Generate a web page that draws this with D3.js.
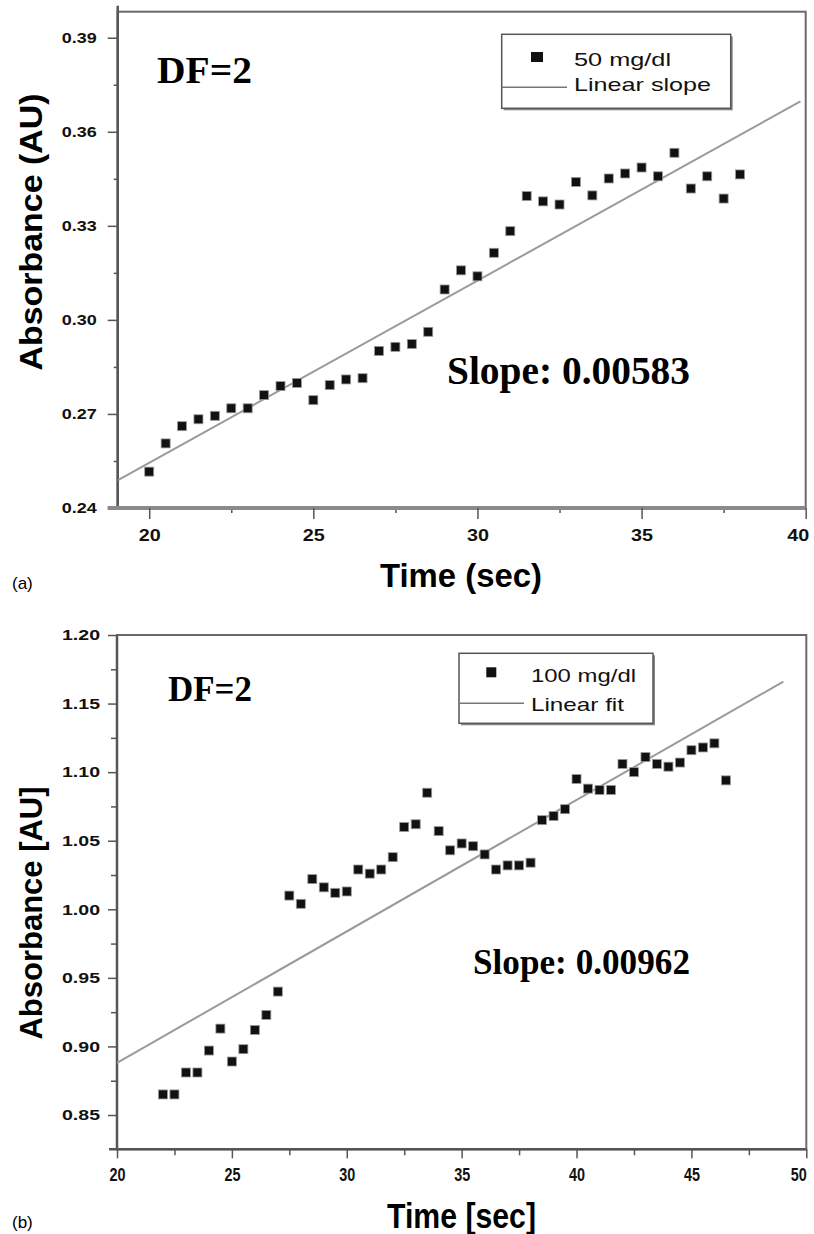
<!DOCTYPE html>
<html><head><meta charset="utf-8">
<script src="https://cdn.jsdelivr.net/npm/d3@7/dist/d3.min.js"></script>
<style>body{margin:0;background:#fff}svg{display:block}</style>
</head><body>
<svg id="c" width="814" height="1234"></svg>
<script>
// ---------- Panel (a) data ----------
const timeA = [20,20.5,21,21.5,22,22.5,23,23.5,24,24.5,25,25.5,26,26.5,27,27.5,28,28.5,29,29.5,30,30.5,31,31.5,32,32.5,33,33.5,34,34.5,35,35.5,36,36.5,37,37.5,38];
const absA  = [0.2516,0.2606,0.2661,0.2683,0.2694,0.2718,0.2718,0.2760,0.2789,0.2799,0.2744,0.2792,0.2810,0.2814,0.2901,0.2914,0.2923,0.2962,0.3097,0.3158,0.3139,0.3214,0.3283,0.3395,0.3378,0.3368,0.3440,0.3397,0.3451,0.3467,0.3486,0.3458,0.3533,0.3419,0.3458,0.3387,0.3464];
const fitTimeA = [19.05, 39.84];
const fitAbsA  = [0.2489, 0.3697];
const yTicksA = [0.24,0.27,0.30,0.33,0.36,0.39];
const yMinorA = [0.255,0.285,0.315,0.345,0.375];
const xTicksA = [20,25,30,35,40];
const xMinorA = [22.5,27.5,32.5,37.5];

// ---------- Panel (b) data ----------
const timeB = [22,22.5,23,23.5,24,24.5,25,25.5,26,26.5,27,27.5,28,28.5,29,29.5,30,30.5,31,31.5,32,32.5,33,33.5,34,34.5,35,35.5,36,36.5,37,37.5,38,38.5,39,39.5,40,40.5,41,41.5,42,42.5,43,43.5,44,44.5,45,45.5,46,46.5];
const absB  = [0.865,0.865,0.881,0.881,0.897,0.913,0.889,0.898,0.912,0.923,0.940,1.010,1.004,1.022,1.016,1.012,1.013,1.029,1.026,1.029,1.038,1.060,1.062,1.085,1.057,1.043,1.048,1.046,1.040,1.029,1.032,1.032,1.034,1.065,1.068,1.073,1.095,1.088,1.087,1.087,1.106,1.100,1.111,1.106,1.104,1.107,1.116,1.118,1.121,1.094];
const fitTimeB = [20.0, 49.0];
const fitAbsB  = [0.888, 1.166];
const yTicksB = [0.85,0.90,0.95,1.00,1.05,1.10,1.15,1.20];
const yMinorB = [0.875,0.925,0.975,1.025,1.075,1.125,1.175];
const xTicksB = [20,25,30,35,40,45,50];
const xMinorB = [22.5,27.5,32.5,37.5,42.5,47.5];

const svg = d3.select('#c');
const SANS = "'Liberation Sans', Arial, sans-serif";
const SERIF = "'Liberation Serif', 'Times New Roman', serif";

function panel(o){
  const x = d3.scaleLinear().domain(o.xDomain).range(o.xRange);
  const y = d3.scaleLinear().domain(o.yDomain).range(o.yRange);
  const g = svg.append('g');
  const L = o.xRange[0], R = o.xRange[1], T = o.yRange[1], B = o.yRange[0];

  // frame (top & right)
  g.append('rect').attr('x', L).attr('y', T).attr('width', R-L).attr('height', B-T)
    .attr('fill','none').attr('stroke','#6a6a6a').attr('stroke-width',2);

  // minor ticks
  g.append('g').attr('transform',`translate(${L},0)`)
    .call(d3.axisLeft(y).tickValues(o.yMinor).tickSize(o.yMinorLen).tickFormat(''))
    .call(s=>s.select('.domain').remove())
    .call(s=>s.selectAll('line').attr('stroke','#555').attr('stroke-width',1.5));
  g.append('g').attr('transform',`translate(0,${B})`)
    .call(d3.axisBottom(x).tickValues(o.xMinor).tickSize(o.xMinorLen).tickFormat(''))
    .call(s=>s.select('.domain').remove())
    .call(s=>s.selectAll('line').attr('stroke','#555').attr('stroke-width',1.5));

  // major y axis
  const ya = g.append('g').attr('transform',`translate(${L},0)`)
    .call(d3.axisLeft(y).tickValues(o.yTicks).tickSize(o.yMajorLen).tickPadding(o.yPad).tickFormat(d3.format('.2f')));
  ya.select('.domain').attr('stroke','#555').attr('stroke-width',2.5)
    .attr('d', `M0,${B}V${T - o.leftOver}`);
  ya.selectAll('line').attr('stroke','#555').attr('stroke-width',1.5);
  ya.selectAll('text').attr('font-family',SANS).attr('font-weight','bold')
    .attr('font-size',o.yFont).attr('fill','#111')
    .attr('textLength',o.yLabelLen).attr('lengthAdjust','spacingAndGlyphs');

  // major x axis
  const xa = g.append('g').attr('transform',`translate(0,${B})`)
    .call(d3.axisBottom(x).tickValues(o.xTicks).tickSize(o.xMajorLen).tickPadding(o.xPad).tickFormat(d3.format('d')));
  xa.select('.domain').attr('stroke',o.bottomColor).attr('stroke-width',o.bottomWidth)
    .attr('d', `M${L - o.bottomOver},0H${R}`);
  xa.selectAll('line').attr('stroke','#555').attr('stroke-width',1.5);
  xa.selectAll('text').attr('font-family',SANS).attr('font-weight','bold')
    .attr('font-size',o.xFont).attr('fill','#111')
    .attr('textLength',o.xLabelLen).attr('lengthAdjust','spacingAndGlyphs');
  // keep the last label inside the page
  xa.selectAll('text').filter((d,i,n)=>i===n.length-1)
    .attr('text-anchor','end').attr('x', o.lastLabelDx);

  // fit line
  const fit = o.fitT.map((t,i)=>({t, v:o.fitV[i]}));
  g.append('path').datum(fit)
    .attr('d', d3.line().x(d=>x(d.t)).y(d=>y(d.v)))
    .attr('fill','none').attr('stroke','#9a9a9a').attr('stroke-width',2);

  // data points
  const pts = o.t.map((t,i)=>({t, v:o.v[i]}));
  g.append('g').selectAll('rect').data(pts).join('rect')
    .attr('x', d=>x(d.t)-o.ms/2).attr('y', d=>y(d.v)-o.ms/2)
    .attr('width', o.ms).attr('height', o.ms)
    .attr('fill','#111').attr('stroke','#9a9a9a').attr('stroke-width',0.8);

  // legend
  const lg = o.legend;
  g.append('rect').attr('x',lg.x+2).attr('y',lg.y+2).attr('width',lg.w).attr('height',lg.h)
    .attr('fill','#888');
  g.append('rect').attr('x',lg.x).attr('y',lg.y).attr('width',lg.w).attr('height',lg.h)
    .attr('fill','#fff').attr('stroke','#555').attr('stroke-width',1.5);
  g.append('rect').attr('x',lg.mx-lg.mw/2).attr('y',lg.my-lg.mh/2).attr('width',lg.mw).attr('height',lg.mh).attr('fill','#111');
  g.append('line').attr('x1',lg.x).attr('x2',lg.lx2).attr('y1',lg.ly).attr('y2',lg.ly)
    .attr('stroke','#777').attr('stroke-width',1.5);
  g.append('text').attr('x',lg.tx).attr('y',lg.t1y).text(lg.t1)
    .attr('font-family',SANS).attr('font-size',lg.fs).attr('fill','#111')
    .attr('textLength',lg.t1len).attr('lengthAdjust','spacingAndGlyphs');
  g.append('text').attr('x',lg.tx).attr('y',lg.t2y).text(lg.t2)
    .attr('font-family',SANS).attr('font-size',lg.fs).attr('fill','#111')
    .attr('textLength',lg.t2len).attr('lengthAdjust','spacingAndGlyphs');

  // annotations
  g.append('text').attr('x',o.df.x).attr('y',o.df.y).text('DF=2')
    .attr('font-family',SERIF).attr('font-weight','bold').attr('font-size',o.df.fs).attr('fill','#000')
    .attr('textLength',o.df.len).attr('lengthAdjust','spacingAndGlyphs');
  g.append('text').attr('x',o.sl.x).attr('y',o.sl.y).text(o.sl.text)
    .attr('font-family',SERIF).attr('font-weight','bold').attr('font-size',o.sl.fs).attr('fill','#000')
    .attr('textLength',o.sl.len).attr('lengthAdjust','spacingAndGlyphs');

  // axis titles
  g.append('text').attr('transform',`translate(${o.yt.x},${o.yt.y}) rotate(-90)`)
    .attr('text-anchor','middle').text(o.yt.text)
    .attr('font-family',SANS).attr('font-weight','bold').attr('font-size',o.yt.fs).attr('fill','#000')
    .attr('textLength',o.yt.len).attr('lengthAdjust','spacingAndGlyphs');
  g.append('text').attr('x',o.xt.x).attr('y',o.xt.y).attr('text-anchor','middle').text(o.xt.text)
    .attr('font-family',SANS).attr('font-weight','bold').attr('font-size',o.xt.fs).attr('fill','#000')
    .attr('textLength',o.xt.len).attr('lengthAdjust','spacingAndGlyphs');
  g.append('text').attr('x',12).attr('y',o.tag.y).text(o.tag.text)
    .attr('font-family',SANS).attr('font-size',17).attr('fill','#000');
}

panel({
  t: timeA, v: absA, fitT: fitTimeA, fitV: fitAbsA,
  xDomain:[19.04,40], xRange:[117.7,805.7],
  yDomain:[0.24,0.3983], yRange:[508,11.7],
  yTicks:yTicksA, yMinor:yMinorA, xTicks:xTicksA, xMinor:xMinorA,
  yMajorLen:10, yMinorLen:4, xMajorLen:11, xMinorLen:5,
  yPad:11, xPad:10, yFont:14, xFont:17, yLabelLen:35, xLabelLen:22,
  lastLabelDx:3,
  leftOver:6, bottomOver:10, bottomColor:'#8a8a8a', bottomWidth:4,
  ms:9,
  legend:{x:501.7,y:34.3,w:229,h:74,mx:537,my:57,mw:12,mh:10,lx2:567,ly:87.3,tx:574,
    t1:'50 mg/dl',t1y:66,t1len:97,t2:'Linear slope',t2y:91,t2len:137,fs:19},
  df:{x:157,y:83,fs:38,len:95},
  sl:{x:447,y:384,fs:39,len:243,text:'Slope: 0.00583'},
  yt:{x:42,y:232,fs:32,len:277,text:'Absorbance  (AU)'},
  xt:{x:461,y:587,fs:33,len:162,text:'Time (sec)'},
  tag:{y:589,text:'(a)'}
});

panel({
  t: timeB, v: absB, fitT: fitTimeB, fitV: fitAbsB,
  xDomain:[20,50], xRange:[117,806.3],
  yDomain:[0.825,1.20], yRange:[1149.3,635],
  yTicks:yTicksB, yMinor:yMinorB, xTicks:xTicksB, xMinor:xMinorB,
  yMajorLen:9, yMinorLen:6, xMajorLen:9, xMinorLen:6,
  yPad:8, xPad:10, yFont:15, xFont:18, yLabelLen:38, xLabelLen:16,
  lastLabelDx:0,
  leftOver:0, bottomOver:8, bottomColor:'#555', bottomWidth:2.5,
  ms:9,
  legend:{x:459,y:653.3,w:194,h:70,mx:491.3,my:672.3,mw:10,mh:10,lx2:524,ly:703.3,tx:531,
    t1:'100 mg/dl',t1y:682,t1len:105,t2:'Linear fit',t2y:711,t2len:93,fs:19},
  df:{x:168,y:701,fs:35,len:84},
  sl:{x:473,y:974,fs:35,len:217,text:'Slope: 0.00962'},
  yt:{x:42,y:913,fs:32,len:253,text:'Absorbance [AU]'},
  xt:{x:461.5,y:1228,fs:35,len:149,text:'Time [sec]'},
  tag:{y:1228,text:'(b)'}
});
</script>
</body></html>
